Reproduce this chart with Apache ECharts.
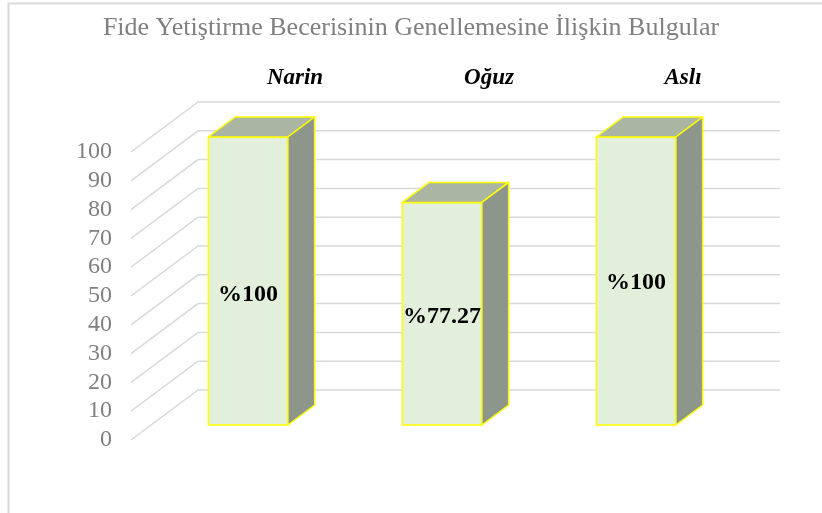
<!DOCTYPE html>
<html>
<head>
<meta charset="utf-8">
<script src="https://cdn.jsdelivr.net/npm/echarts@6/dist/echarts.min.js"></script>
<style>html,body{margin:0;padding:0;background:#fff}#c{width:822px;height:513px}</style>
</head>
<body>
<div id="c"></div>
<script>
const titleText = 'Fide Yetiştirme Becerisinin Genellemesine İlişkin Bulgular';
const categories = ['Narin', 'Oğuz', 'Aslı'];
const values = [100, 77.27, 100];
const valueLabels = ['%100', '%77.27', '%100'];
const yTicks = [0, 10, 20, 30, 40, 50, 60, 70, 80, 90, 100];

// rendering constants (not data)
const DX = 67, DY = -50;          // full depth offset of the 3D floor
const D0 = 0.3, D1 = 0.7;         // bar depth range
const BAR_FRAC = 0.41;
const labelDy = [14, 3, 2];
const serif = '"Liberation Serif","Times New Roman",serif';

const chart = echarts.init(document.getElementById('c'));

function gridRender(params, api) {
  const v = api.value(0);
  const band = api.size([1, 0])[0];
  const p = api.coord([0, v]);
  const xl = p[0] - band / 2;
  const xr = api.coord([categories.length - 1, v])[0] + band / 2;
  const y = p[1];
  return {
    type: 'polyline',
    shape: { points: [[xl, y], [xl + DX, y + DY], [xr + DX, y + DY]] },
    style: { stroke: '#d9d9d9', lineWidth: 1.5, fill: null },
    silent: true
  };
}

function barRender(params, api) {
  const i = api.value(0);
  const v = api.value(1);
  const band = api.size([1, 0])[0];
  const w = band * BAR_FRAC;
  const c = api.coord([i, v]);
  const b = api.coord([i, 0]);
  const ox = D0 * DX, oy = D0 * DY;
  const dx = (D1 - D0) * DX, dy = (D1 - D0) * DY;
  const x0 = c[0] + ox - w / 2, x1 = x0 + w;
  const yt = c[1] + oy, yb = b[1] + oy;
  const stroke = { stroke: '#ffff00', lineWidth: 1.5, lineJoin: 'round' };
  return {
    type: 'group',
    children: [
      { type: 'polygon', shape: { points: [[x0, yt], [x1, yt], [x1, yb], [x0, yb]] },
        style: Object.assign({ fill: '#e2efda' }, stroke) },
      { type: 'polygon', shape: { points: [[x0, yt], [x1, yt], [x1 + dx, yt + dy], [x0 + dx, yt + dy]] },
        style: Object.assign({ fill: '#aab5a2' }, stroke) },
      { type: 'polygon', shape: { points: [[x1, yt], [x1 + dx, yt + dy], [x1 + dx, yb + dy], [x1, yb]] },
        style: Object.assign({ fill: '#8d968a' }, stroke) },
      { type: 'text', style: { text: valueLabels[i], x: (x0 + x1) / 2, y: (yt + yb) / 2 + labelDy[i],
          align: 'center', verticalAlign: 'middle', fill: '#000', font: 'bold 24px ' + serif } },
      { type: 'text', style: { text: categories[i], x: b[0] + DX, y: 78,
          align: 'center', verticalAlign: 'middle', fill: '#000', font: 'italic bold 23px ' + serif } }
    ]
  };
}

chart.setOption({
  animation: false,
  backgroundColor: '#ffffff',
  title: {
    text: titleText, left: 'center', top: 10,
    textStyle: { color: '#808080', fontSize: 26, fontWeight: 'normal', fontFamily: serif }
  },
  graphic: [{
    type: 'rect', shape: { x: 8.5, y: 3.5, width: 900, height: 600 },
    style: { fill: null, stroke: '#d9d9d9', lineWidth: 2 }, z: 100, silent: true
  }],
  grid: { left: 131, right: 109, top: 152, bottom: 73, containLabel: false },
  xAxis: {
    type: 'category', data: categories,
    axisLine: { show: false }, axisTick: { show: false }, axisLabel: { show: false }, splitLine: { show: false }
  },
  yAxis: {
    type: 'value', min: 0, max: 100, interval: 10,
    axisLine: { show: false }, axisTick: { show: false }, splitLine: { show: false },
    axisLabel: { color: '#808080', fontSize: 24, fontFamily: serif, margin: 19 }
  },
  series: [
    { type: 'custom', renderItem: gridRender, data: yTicks.map(v => [v]), encode: { y: 0 }, clip: false, z: 1 },
    { type: 'custom', renderItem: barRender, data: values.map((v, i) => [i, v]), encode: { x: 0, y: 1 }, clip: false, z: 2 }
  ]
});
</script>
</body>
</html>
